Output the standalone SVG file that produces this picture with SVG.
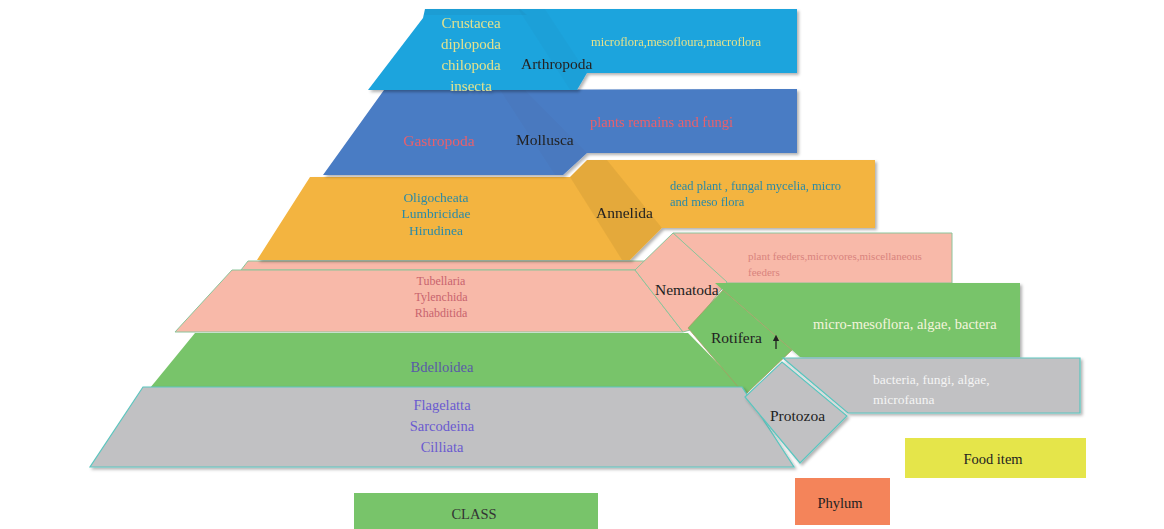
<svg xmlns="http://www.w3.org/2000/svg" width="1164" height="529" viewBox="0 0 1164 529">
<defs>
<filter id="sh" x="-10%" y="-10%" width="130%" height="140%">
<feDropShadow dx="2" dy="2" stdDeviation="1.6" flood-color="#000" flood-opacity="0.3"/>
</filter>
<marker id="ah" viewBox="0 0 10 10" refX="5" refY="5" markerWidth="5" markerHeight="5" orient="auto-start-reverse">
<path d="M0,0 L10,5 L0,10 z" fill="#222"/>
</marker>
</defs>
<style>
text{font-family:"Liberation Serif","Times New Roman",serif}
.c{text-anchor:middle}
.ph{fill:#222;font-size:15.5px}
.arth{fill:#1fa4dd}
.moll{fill:#4a7cc4}
.anne{fill:#f3b43f}
.nema{fill:#f8b9a9;stroke:#8cc49a;stroke-width:1}
.roti{fill:#78c46a}
.prot{fill:#c1c1c3;stroke:#5cc6bf;stroke-width:1.2}
.dark{fill:#000}
</style>
<rect width="1164" height="529" fill="#fff"/>

<g id="nematoda">
<polygon class="nema" points="248,261 660,261 660,270 241,270" stroke="none"/>
<polygon class="nema" points="232,270 635,270 683,332 175,332"/>
<polygon class="nema" points="673,233 952,233 952,283 727,283"/>
<polygon class="nema" points="635,270 673,233 727,282 690,330 683,332"/>
<text class="c" x="441" y="285" font-size="12" fill="#c8646e">Tubellaria</text>
<text class="c" x="441" y="301" font-size="12" fill="#c8646e">Tylenchida</text>
<text class="c" x="441" y="317" font-size="12" fill="#c8646e">Rhabditida</text>
<text class="ph" x="655" y="295">Nematoda</text>
<text x="748" y="260" font-size="11" fill="#d8847e">plant feeders,microvores,miscellaneous</text>
<text x="748" y="276" font-size="11" fill="#d8847e">feeders</text>
</g>

<g id="rotifera">
<polygon class="roti" points="195,333 688,333 742,388 150,388"/>
<polygon class="roti" points="715,283 1020,283 1020,357 800,357 792,350" filter="url(#sh)"/>
<polygon class="roti" points="688,328 723,290 792,350 745,395" stroke="#a89a62" stroke-width="0.8"/>
<text class="c" x="442" y="372" font-size="14.5" fill="#5a5aa8">Bdelloidea</text>
<text class="ph" x="711" y="343" font-size="14.5">Rotifera</text>
<text x="813" y="329" font-size="14.5" fill="#f4f4dc">micro-mesoflora, algae, bactera</text>
</g>

<g id="protozoa">
<polygon class="prot" points="143,387 742,387 794,467 90,467" filter="url(#sh)"/>
<polygon class="prot" points="783,358 1080,358 1080,413 848,413" filter="url(#sh)"/>
<polygon class="prot" points="745,397 782,362 847,416 800,463" filter="url(#sh)"/>
<text class="c" x="442" y="410" font-size="14.5" fill="#6a5ad0">Flagelatta</text>
<text class="c" x="442" y="431" font-size="14.5" fill="#6a5ad0">Sarcodeina</text>
<text class="c" x="442" y="452" font-size="14.5" fill="#6a5ad0">Cilliata</text>
<text class="ph" x="770" y="421" font-size="14.5">Protozoa</text>
<text x="873" y="384" font-size="13.5" fill="#f4f4f4">bacteria, fungi, algae,</text>
<text x="873" y="404" font-size="13.5" fill="#f4f4f4">microfauna</text>
</g>

<g id="annelida" filter="url(#sh)">
<polygon class="anne" points="310,177 570,177 587,160 875,160 875,228 662,228 630,260 257,260"/>
<polygon class="dark" style="fill-opacity:0.06" points="570,177 587,160 607,160 662,228 630,260 622,260"/>
<text class="c" x="436" y="202" font-size="13.5" fill="#2a8aa8">Oligocheata</text>
<text class="c" x="436" y="218" font-size="13.5" fill="#2a8aa8">Lumbricidae</text>
<text class="c" x="436" y="235" font-size="13.5" fill="#2a8aa8">Hirudinea</text>
<text class="ph" x="596" y="218" font-size="15">Annelida</text>
<text x="670" y="190" font-size="12.5" fill="#2a8aa8">dead plant , fungal mycelia, micro</text>
<text x="670" y="206" font-size="12.5" fill="#2a8aa8">and meso flora</text>
</g>

<g id="mollusca" filter="url(#sh)">
<polygon class="moll" points="384,90 797,89 797,153 587,153 563,175 323,175"/>
<polygon class="dark" style="fill-opacity:0.025" points="500,90 525,90 587,153 563,175 555,175"/>
<text class="c" x="439" y="146" font-size="15.5" fill="#e8606c">Gastropoda</text>
<text class="ph" x="516" y="145">Mollusca</text>
<text x="590" y="127" font-size="14.5" fill="#e8606c">plants remains and fungi</text>
</g>

<g id="arthropoda" filter="url(#sh)">
<polygon class="arth" points="425,9 797,9 797,73 587,73 577,90 368,90 423,18"/>
<polygon class="dark" style="fill-opacity:0.04" points="425,9 520,9 527,15 424,15"/>
<polygon class="dark" style="fill-opacity:0.02" points="518,9 545,9 587,73 577,90 570,90"/>
<text class="c" x="471" y="28" font-size="15" fill="#e2e28c">Crustacea</text>
<text class="c" x="471" y="49" font-size="15" fill="#e2e28c">diplopoda</text>
<text class="c" x="471" y="70" font-size="15" fill="#e2e28c">chilopoda</text>
<text class="c" x="471" y="91" font-size="15" fill="#e2e28c">insecta</text>
<text class="ph" x="521" y="69" font-size="16">Arthropoda</text>
<text x="591" y="46" font-size="12.5" fill="#e2e28c">microflora,mesofloura,macroflora</text>
</g>

<g id="connectors">
<line x1="776" y1="349" x2="776" y2="338" stroke="#222" stroke-width="1.3" marker-end="url(#ah)"/>
</g>

<g id="legend-food">
<rect x="905" y="438" width="181" height="40" fill="#e5e54a"/>
<text class="c" x="993" y="464" font-size="14.5" fill="#222">Food item</text>
</g>
<g id="legend-phylum">
<rect x="795" y="478" width="95" height="47" fill="#f4845a"/>
<text class="c" x="840" y="508" font-size="14.5" fill="#222">Phylum</text>
</g>
<g id="legend-class">
<rect x="354" y="493" width="244" height="36" fill="#78c46a"/>
<text class="c" x="474" y="519" font-size="14.5" fill="#333">CLASS</text>
</g>
</svg>
